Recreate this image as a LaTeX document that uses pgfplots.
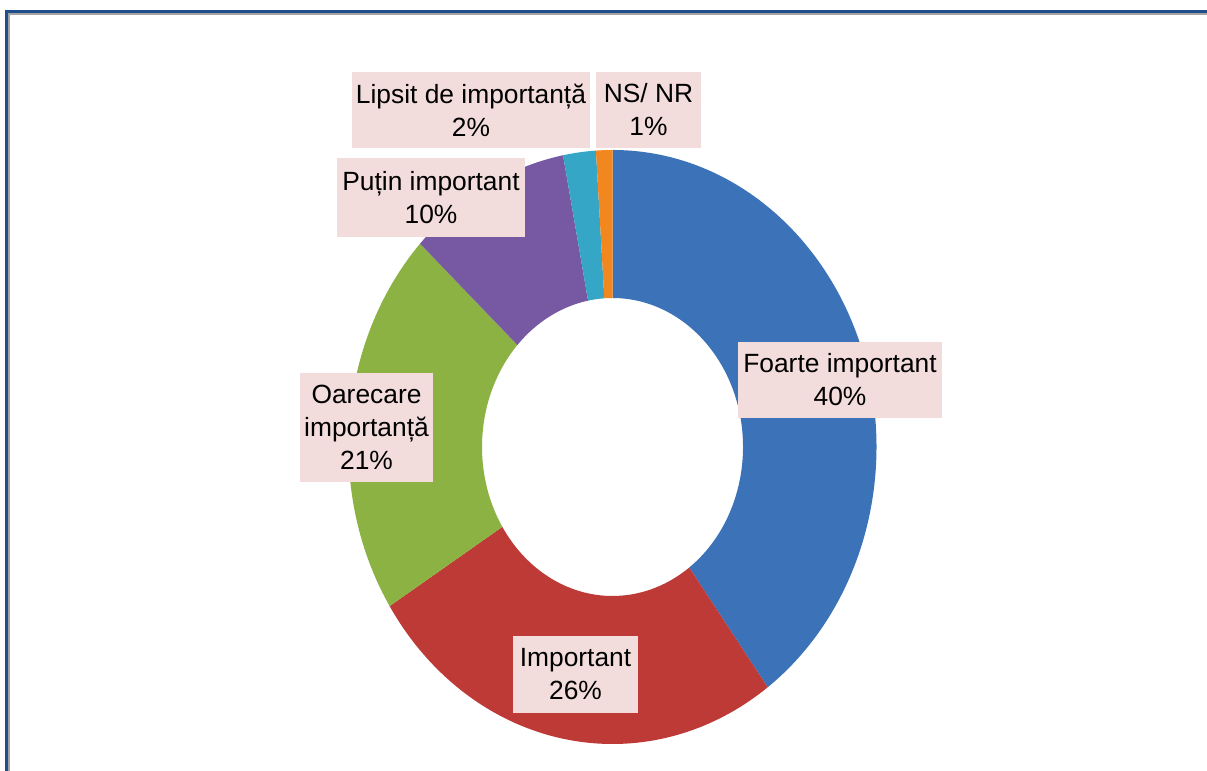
\documentclass[border=0pt]{standalone}
\usepackage{pgfplots}
\pgfplotsset{compat=1.18}
\usepackage{pgfplotstable}
\usepackage{fontspec}
\setmainfont{Liberation Sans}

\definecolor{cFoarte}{HTML}{3C73B8}
\definecolor{cImp}{HTML}{BD3A36}
\definecolor{cOare}{HTML}{8CB243}
\definecolor{cPutin}{HTML}{7659A2}
\definecolor{cLipsit}{HTML}{36A6C6}
\definecolor{cNS}{HTML}{F2871F}
\definecolor{lblbg}{HTML}{F2DDDC}
\definecolor{frameblue}{HTML}{1F4E8C}
\definecolor{framegray}{HTML}{A3A3A3}

\tikzset{lbl/.style={fill=lblbg, inner sep=0pt, align=center,
    font=\fontsize{7.5}{9.4}\selectfont}}

% shares of the donut, clockwise from 12 o'clock
\pgfplotstableread{
value color
40 cFoarte
26 cImp
21 cOare
10 cPutin
2  cLipsit
1  cNS
}\shares

\begin{document}
\begin{tikzpicture}
\begin{axis}[
  scale only axis, width=12.07cm, height=7.71cm,
  xmin=0, xmax=1207, ymin=0, ymax=771,
  hide axis, clip=false,
]
% frame
\fill[white] (axis cs:0,0) rectangle (axis cs:1207,771);
\fill[framegray] (axis cs:8,0) rectangle (axis cs:10,758);
\fill[framegray] (axis cs:8,756) rectangle (axis cs:1207,758);
\fill[frameblue] (axis cs:5,0) rectangle (axis cs:8,761);
\fill[frameblue] (axis cs:5,758) rectangle (axis cs:1207,761);

% donut slices
\pgfplotstablegetrowsof{\shares}
\pgfmathtruncatemacro{\nrows}{\pgfplotsretval-1}
\def\angA{90}
\pgfplotsforeachungrouped \i in {0,...,\nrows}{%
  \pgfplotstablegetelem{\i}{value}\of\shares \let\val\pgfplotsretval
  \pgfplotstablegetelem{\i}{color}\of\shares \let\col\pgfplotsretval
  \pgfmathsetmacro{\angB}{\angA-3.6*\val}%
  \edef\temp{\noexpand\fill[\col, shift={(axis cs:612.5,324)}]
    (\angA:2.64cm and 2.97cm)
    arc[start angle=\angA, end angle=\angB, x radius=2.64cm, y radius=2.97cm]
    -- (\angB:1.305cm and 1.49cm)
    arc[start angle=\angB, end angle=\angA, x radius=1.305cm, y radius=1.49cm]
    -- cycle;}%
  \temp
  \let\angA\angB
}

% data labels
\node[lbl, minimum width=2.38cm, minimum height=0.76cm] at (axis cs:471,661) {Lipsit de importanță\\2\%};
\node[lbl, minimum width=1.05cm, minimum height=0.76cm] at (axis cs:648.5,661) {NS/ NR\\1\%};
\node[lbl, minimum width=1.88cm, minimum height=0.79cm] at (axis cs:431,573.5) {Puțin important\\10\%};
\node[lbl, minimum width=2.04cm, minimum height=0.76cm] at (axis cs:840,391) {Foarte important\\40\%};
\node[lbl, minimum width=1.33cm, minimum height=1.09cm] at (axis cs:366.5,343.5) {Oarecare\\importanță\\21\%};
\node[lbl, minimum width=1.25cm, minimum height=0.77cm] at (axis cs:575.5,96.5) {Important\\26\%};
\end{axis}
\end{tikzpicture}
\end{document}
